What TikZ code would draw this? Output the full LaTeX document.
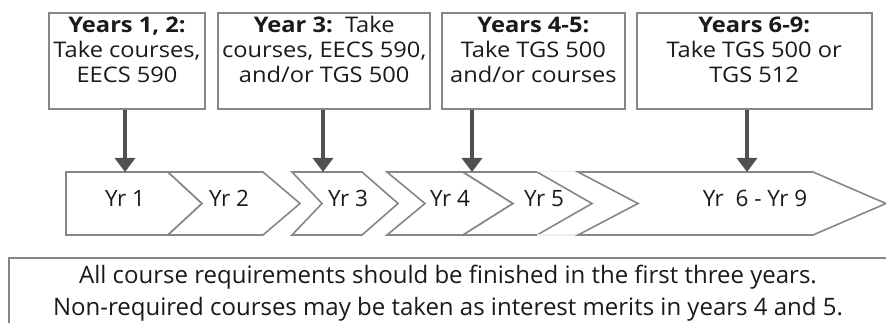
\documentclass[tikz,border=0pt]{standalone}
\usepackage{fontspec}
\setmainfont{Open Sans}
\newfontfamily\boxfont[FakeStretch=1.1]{Open Sans}
\usetikzlibrary{arrows.meta}
\definecolor{boxgray}{HTML}{868686}
\definecolor{arrowgray}{HTML}{505050}
\definecolor{txt}{HTML}{1A1A1A}
\begin{document}
\begin{tikzpicture}[x=1pt,y=-1pt,
  infobox/.style={draw=boxgray, line width=1.6pt, fill=white, inner sep=0pt},
  chev/.style={draw=boxgray, line width=1.6pt, line join=miter, fill=white},
  feed/.style={draw=arrowgray, line width=3.5pt, -{Triangle[width=20pt,length=14pt]}},
  boxtxt/.style={font=\boxfont\fontsize{21.5}{25}\selectfont, align=center, text=txt, anchor=base, inner sep=0pt},
  yrtxt/.style={font=\fontsize{22.5}{28}\selectfont, text=txt, anchor=base, inner sep=0pt},
  notetxt/.style={font=\fontsize{24}{32}\selectfont, align=center, text=txt, anchor=base, inner sep=0pt},
]
\useasboundingbox (0,0) rectangle (886,323);
\clip (0,0) rectangle (886,323);
% top boxes
\node[infobox, minimum width=156pt, minimum height=96pt] (b1) at (127,61.3) {};
\node[infobox, minimum width=212pt, minimum height=96pt] (b2) at (324.2,61.3) {};
\node[infobox, minimum width=183pt, minimum height=96pt] (b3) at (533.4,61.3) {};
\node[infobox, minimum width=235pt, minimum height=96pt] (b4) at (754.2,61.3) {};
\node[boxtxt] (t1) at (127,83) {\textbf{Years 1, 2:}\\Take courses,\\EECS 590};
\node[boxtxt] (t2) at (324.2,83) {\textbf{Year 3:}~~Take\\courses, EECS 590,\\and/or TGS 500};
\node[boxtxt] (t3) at (533.4,83) {\textbf{Years 4-5:}\\Take TGS 500\\and/or courses};
\node[boxtxt] (t4) at (754.2,83) {\textbf{Years 6-9:}\\Take TGS 500 or\\TGS 512};
% chevrons
\draw[chev] (66,172) -- (168,172) -- (202,203.5) -- (168,235) -- (66,235) -- cycle;
\draw[chev] (168,172) -- (263,172) -- (300,203.5) -- (263,235) -- (168,235) -- (202,203.5) -- cycle;
\draw[chev] (292,172) -- (362,172) -- (398,203.5) -- (362,235) -- (292,235) -- (322,203.5) -- cycle;
\draw[chev] (387,172) -- (463,172) -- (513,203.5) -- (463,235) -- (387,235) -- (425,203.5) -- cycle;
\draw[chev] (463,172) -- (537,172) -- (592,203.5) -- (537,235) -- (463,235) -- (513,203.5) -- cycle;
\draw[draw=black!7, line width=1pt] (537,172) -- (578,172) (537,235) -- (578,235);
\draw[chev] (578,172) -- (813,172) -- (886,203.5) -- (813,235) -- (578,235) -- (638,203.5) -- cycle;
\node[yrtxt] (y1) at (125,207) {Yr 1};
\node[yrtxt] (y2) at (229,207) {Yr 2};
\node[yrtxt] (y3) at (348,207) {Yr 3};
\node[yrtxt] (y4) at (450,207) {Yr 4};
\node[yrtxt] (y5) at (544,207) {Yr 5};
\node[yrtxt] (y6) at (755,207) {Yr~~6 - Yr 9};
% arrow targets
\coordinate (a1) at (125,172);
\coordinate (a2) at (323,172);
\coordinate (a3) at (472,172);
\coordinate (a4) at (747,172);
\draw[feed] (b1.south -| a1) -- (a1);
\draw[feed] (b2.south -| a2) -- (a2);
\draw[feed] (b3.south -| a3) -- (a3);
\draw[feed] (b4.south -| a4) -- (a4);
% note box
\node[infobox, minimum width=880pt, minimum height=100pt, anchor=north west] (nb) at (8,257) {};
\node[notetxt] (nt) at (448,315) {All course requirements should be finished in the first three years.\\Non-required courses may be taken as interest merits in years 4 and 5.};
\end{tikzpicture}
\end{document}
